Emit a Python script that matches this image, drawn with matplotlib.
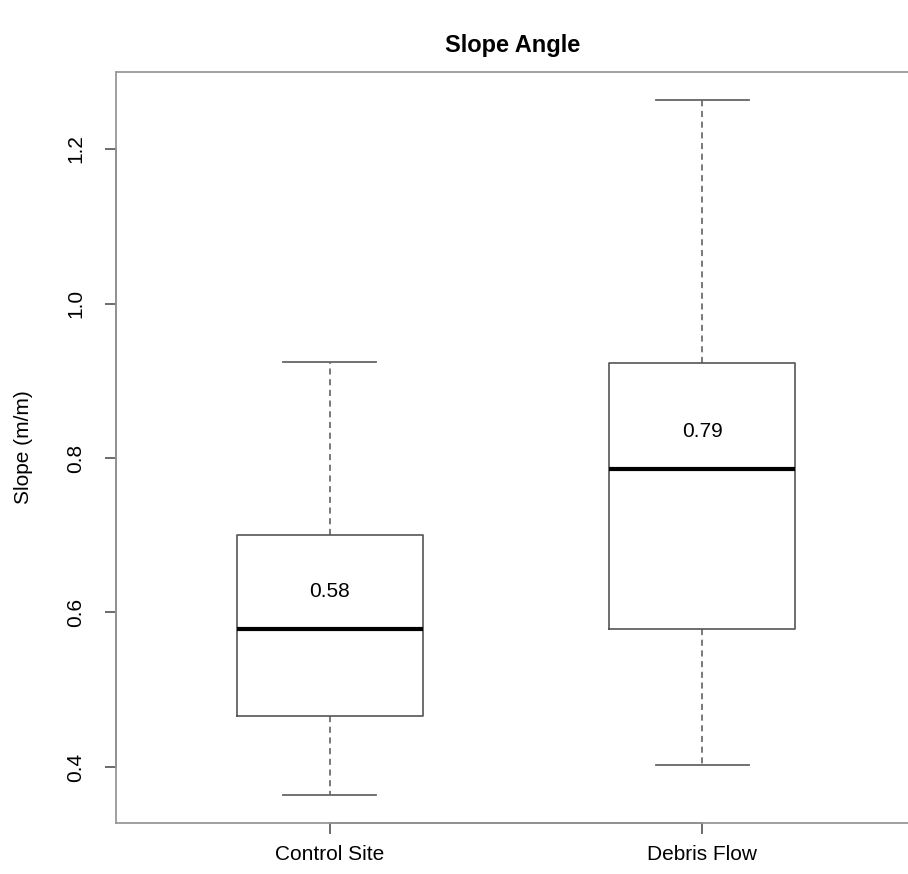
import matplotlib.pyplot as plt
import numpy as np

plt.rcParams['font.family'] = ['Liberation Sans', 'DejaVu Sans']

# Box statistics
sites = ["Control Site", "Debris Flow"]
whisker_low = [0.364, 0.403]
q1 = [0.466, 0.578]
medians = [0.579, 0.786]
q3 = [0.700, 0.923]
whisker_high = [0.924, 1.263]
median_labels = ["0.58", "0.79"]
y_ticks = [0.4, 0.6, 0.8, 1.0, 1.2]

stats = []
for i in range(len(sites)):
    stats.append(dict(whislo=whisker_low[i], q1=q1[i], med=medians[i],
                      q3=q3[i], whishi=whisker_high[i], fliers=[], label=sites[i]))

fig = plt.figure(figsize=(9.08, 8.74), dpi=100)
ax = fig.add_axes([0.1278, 0.0584, 0.881, 0.8592])

pos = np.arange(1, len(sites) + 1)
ax.bxp(stats, positions=pos, widths=0.5, capwidths=0.25,
       boxprops=dict(color='#555555', linewidth=1.2),
       medianprops=dict(color='black', linewidth=3),
       whiskerprops=dict(color='#555555', linewidth=1.1, linestyle=(0, (4, 3))),
       capprops=dict(color='#666666', linewidth=1.3))

for p, m, lab in zip(pos, medians, median_labels):
    ax.text(p, m + 0.048, lab, ha='center', va='center', fontsize=15)

ax.set_xlim(0.425, 2.575)
ax.set_ylim(0.3275, 1.2997)
ax.set_yticks(y_ticks)
ax.set_yticklabels([f"{v:.1f}" for v in y_ticks], rotation=90, va='center', fontsize=15)
ax.set_xticks(pos)
ax.set_xticklabels(sites, fontsize=15)
ax.tick_params(length=8, width=1.1, color='#444444', pad=8)
ax.tick_params(axis='y', pad=14)

for s in ax.spines.values():
    s.set_color('#999999')
    s.set_linewidth(1.3)

# darker axis lines spanning the ticks, like R's axis()
ax.plot([pos[0], pos[-1]], [0, 0], color='#444444', lw=1.3,
        transform=ax.get_xaxis_transform(), clip_on=False)
ax.plot([0, 0], [y_ticks[0], y_ticks[-1]], color='#444444', lw=1.3,
        transform=ax.get_yaxis_transform(), clip_on=False)

ax.set_ylabel("Slope (m/m)", fontsize=15, labelpad=24)
fig.text(0.5645, 0.948, "Slope Angle", ha='center', va='center', fontsize=17, fontweight='bold')

fig.savefig("out.png", dpi=100)
